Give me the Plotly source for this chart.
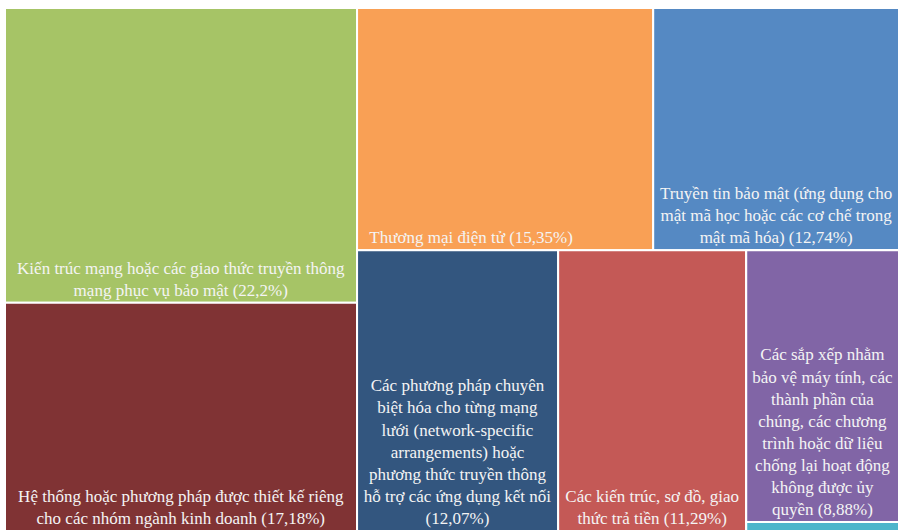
import plotly.graph_objects as go

# ---- data ----
categories = [
    "Kiến trúc mạng hoặc các giao thức truyền thông<br>mạng phục vụ bảo mật (22,2%)",
    "Hệ thống hoặc phương pháp được thiết kế riêng<br>cho các nhóm ngành kinh doanh (17,18%)",
    "Thương mại điện tử (15,35%)",
    "Truyền tin bảo mật (ứng dụng cho<br>mật mã học hoặc các cơ chế trong<br>mật mã hóa) (12,74%)",
    "Các phương pháp chuyên<br>biệt hóa cho từng mạng<br>lưới (network-specific<br>arrangements) hoặc<br>phương thức truyền thông<br>hỗ trợ các ứng dụng kết nối<br>(12,07%)",
    "Các kiến trúc, sơ đồ, giao<br>thức trả tiền (11,29%)",
    "Các sắp xếp nhằm<br>bảo vệ máy tính, các<br>thành phần của<br>chúng, các chương<br>trình hoặc dữ liệu<br>chống lại hoạt động<br>không được ủy<br>quyền (8,88%)",
    "",
]
shares = [22.2, 17.18, 15.35, 12.74, 12.07, 11.29, 8.88, 0.29]
colors = ["#A6C466", "#803334", "#F9A055", "#5589C3", "#33567F", "#C45956", "#8165A6", "#4DB5CB"]
# layout groups (which block of the mosaic each item sits in)
leaf_group = ["L", "L", "RT", "RT", "RB", "RB", "P", "P"]

leaf_ids = [f"c{i}" for i in range(len(categories))]

ids, parents, values, texts, marker_colors = [], [], [], [], []

def add_group(gid, parent):
    ids.append(gid); parents.append(parent); values.append(0)
    texts.append(""); marker_colors.append("#FFFFFF")

def add_leaf(i):
    ids.append(leaf_ids[i]); parents.append(leaf_group[i]); values.append(shares[i])
    t = categories[i]
    if i == 2:  # left-align the orange label like the reference
        t = t + "\u00a0" * 16
    texts.append(t); marker_colors.append(colors[i])

add_group("root", "")
add_group("L", "root")
add_group("R", "root")
add_group("RT", "R")
add_group("RB", "R")
for i in range(6):
    add_leaf(i)
add_group("P", "RB")
for i in range(6, 8):
    add_leaf(i)

fig = go.Figure(go.Treemap(
    ids=ids,
    labels=ids,
    parents=parents,
    values=values,
    branchvalues="remainder",
    sort=False,
    text=texts,
    texttemplate="%{text}",
    textposition="bottom center",
    textfont=dict(family="Liberation Serif", size=17, color="#F4F4F4"),
    marker=dict(colors=marker_colors, line=dict(color="#FFFFFF", width=2),
                pad=dict(t=0, l=0, r=0, b=0), depthfade=False),
    tiling=dict(packing="slice-dice", pad=0),
    pathbar=dict(visible=False),
    hoverinfo="skip",
    root=dict(color="#FFFFFF"),
))

fig.update_layout(
    width=899, height=531,
    margin=dict(l=5, r=0, t=8, b=0),
    paper_bgcolor="#FFFFFF",
    uniformtext=dict(minsize=17, mode="show"),
)

fig.write_html("out.html")
